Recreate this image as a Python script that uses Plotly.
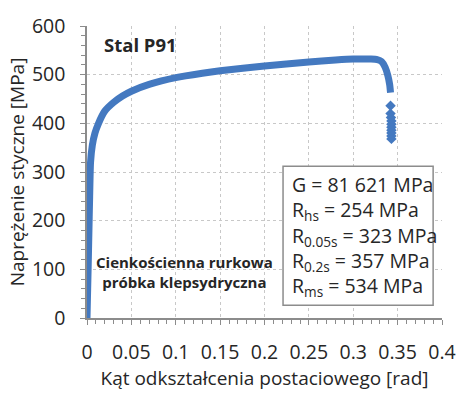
import plotly.graph_objects as go

# Data
strain = [0, 0.0005, 0.001, 0.0015, 0.002, 0.003, 0.004, 0.006, 0.009, 0.013, 0.02,
          0.03, 0.04, 0.05, 0.07, 0.1, 0.13, 0.15, 0.2, 0.25, 0.28, 0.3, 0.32,
          0.327, 0.332, 0.336, 0.339, 0.341, 0.342]
stress = [0, 40, 80, 120, 165, 250, 320, 355, 380, 400, 425,
          443, 456, 466, 480, 494, 503, 508, 518, 526, 530, 532, 532,
          531, 527, 515, 498, 480, 463]
tail_strain = [0.342, 0.342, 0.3425, 0.343, 0.343, 0.343, 0.343, 0.343, 0.343, 0.343]
tail_stress = [436, 420, 412, 405, 398, 392, 386, 380, 374, 368]

x_ticks = [0, 0.05, 0.1, 0.15, 0.2, 0.25, 0.3, 0.35, 0.4]
x_tick_labels = ["0", "0.05", "0.1", "0.15", "0.2", "0.25", "0.3", "0.35", "0.4"]
y_ticks = [0, 100, 200, 300, 400, 500, 600]

box_lines = ["G = 81 621 MPa", "R<sub>hs</sub> = 254 MPa", "R<sub>0.05s</sub> = 323 MPa",
             "R<sub>0.2s</sub> = 357 MPa", "R<sub>ms</sub> = 534 MPa"]

BLUE = "#4479C0"
FONT = "Open Sans"
TXT = "#262626"
AX = "#8c8c8c"

fig = go.Figure()
fig.add_trace(go.Scatter(x=strain, y=stress, mode="lines",
                         line=dict(color=BLUE, width=7, shape="spline", smoothing=0.6),
                         showlegend=False, hoverinfo="skip"))
fig.add_trace(go.Scatter(x=tail_strain, y=tail_stress, mode="markers",
                         marker=dict(symbol="diamond", size=8, color=BLUE),
                         showlegend=False, hoverinfo="skip"))

# Info box
fig.add_shape(type="rect", xref="x", yref="y", x0=0.2209, x1=0.390, y0=26, y1=312,
              line=dict(color=AX, width=1.5), fillcolor="white", layer="above")
fig.add_annotation(x=0.2286, y=168, xref="x", yref="y", text="<br>".join(box_lines),
                   showarrow=False, xanchor="left", yanchor="middle", align="left",
                   font=dict(family=FONT, size=19.5, color=TXT))

fig.add_annotation(x=0.0165, y=561, xref="x", yref="y", text="<b>Stal P91</b>",
                   showarrow=False, xanchor="left", yanchor="middle",
                   font=dict(family=FONT, size=18.5, color=TXT))
fig.add_annotation(x=0.11, y=94, xref="x", yref="y",
                   text="<b>Cienkościenna rurkowa</b><br><b>próbka klepsydryczna</b>",
                   showarrow=False, xanchor="center", yanchor="middle", align="center",
                   font=dict(family=FONT, size=15, color=TXT))

fig.update_layout(
    width=468, height=394,
    margin=dict(l=87, r=17, t=23, b=67),
    paper_bgcolor="white", plot_bgcolor="white",
    font=dict(family=FONT, color=TXT),
    xaxis=dict(range=[0, 0.4], tickvals=x_ticks, ticktext=x_tick_labels,
               showgrid=True, gridcolor="#c8c8c8", griddash="dot", gridwidth=1,
               showline=True, linecolor=AX, linewidth=1.5,
               ticks="outside", ticklen=5, tickcolor=AX,
               minor=dict(dtick=0.01, ticks="outside", ticklen=4, tickcolor=AX, showgrid=False),
               tickfont=dict(size=19.5), ticklabelstandoff=11, zeroline=False,
               title=dict(text="Kąt odkształcenia postaciowego [rad]", font=dict(size=19), standoff=4)),
    yaxis=dict(range=[0, 600], tickvals=y_ticks,
               showgrid=True, gridcolor="#c8c8c8", griddash="dot", gridwidth=1,
               showline=True, linecolor=AX, linewidth=1.5,
               ticks="outside", ticklen=5, tickcolor=AX,
               minor=dict(dtick=20, ticks="outside", ticklen=4, tickcolor=AX, showgrid=False),
               tickfont=dict(size=19.5), ticklabelstandoff=11, zeroline=False,
               title=dict(text="Naprężenie styczne [MPa]", font=dict(size=19), standoff=2)),
)

fig.write_html("out.html")
